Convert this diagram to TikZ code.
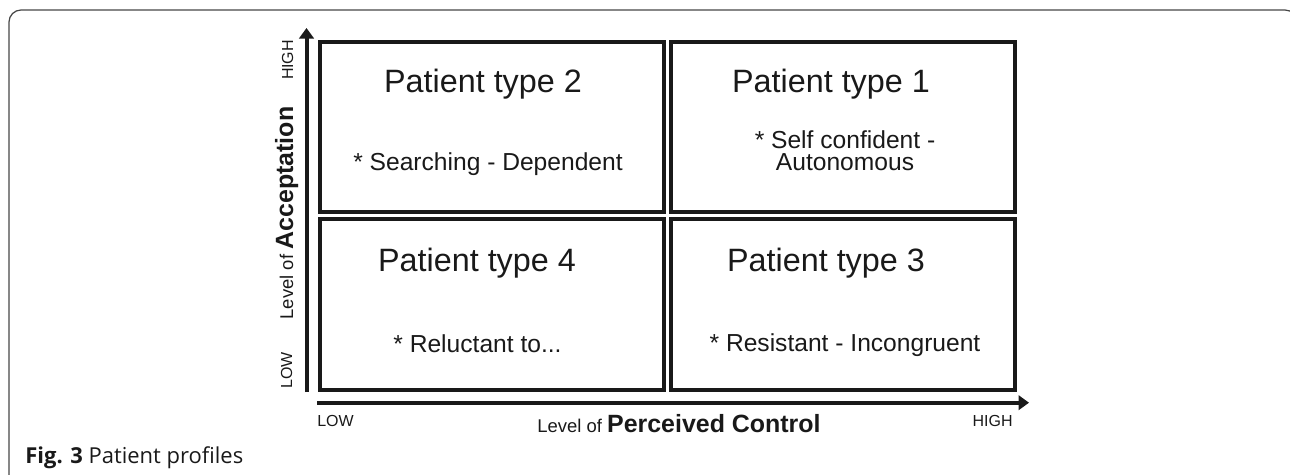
\documentclass[tikz,border=0pt]{standalone}
\usepackage{fontspec}
\setmainfont{Liberation Sans}
\newfontfamily\captionfont{Open Sans}
\usepackage{tikz}
\usetikzlibrary{arrows.meta}
\definecolor{inkblack}{RGB}{25,25,25}
\definecolor{framegray}{RGB}{70,70,70}

\begin{document}
\begin{tikzpicture}[x=0.02cm,y=-0.02cm,
    quadrant/.style={draw=inkblack,line width=0.08cm,minimum width=6.88cm,minimum height=3.41cm,inner sep=0pt},
    typelabel/.style={anchor=base,inner sep=0pt,inkblack,font=\fontsize{18.4pt}{20pt}\selectfont},
    traitlabel/.style={anchor=base,inner sep=0pt,align=center,inkblack,font=\fontsize{14pt}{12.8pt}\selectfont},
    ticklabel/.style={inner sep=0pt,inkblack,font=\fontsize{9.1pt}{10pt}\selectfont},
    axislabel/.style={anchor=base,inner sep=0pt,inkblack,font=\fontsize{10.5pt}{12pt}\selectfont},
    axis/.style={inkblack,line width=0.08cm,-{Triangle[length=0.21cm,width=0.29cm]}}]
  \useasboundingbox (0,0) rectangle (1290,474);
  \draw[framegray,line width=0.025cm,rounded corners=0.24cm] (9,500) -- (9,10) -- (1297,10) -- (1297,500);
  \node[quadrant] (q2) at (492,127.25) {};
  \node[quadrant] (q1) at (843.25,127.25) {};
  \node[quadrant] (q4) at (492,304.5) {};
  \node[quadrant] (q3) at (843.25,304.5) {};
  \node[typelabel] (t2) at (483,92) {Patient type 2};
  \node[traitlabel] (s2) at (488,170.7) {* Searching - Dependent};
  \node[typelabel] (t1) at (831,92) {Patient type 1};
  \node[traitlabel] (s1) at (845,170.7) {* Self confident -\\ Autonomous};
  \node[typelabel] (t4) at (477,271) {Patient type 4};
  \node[traitlabel] (s4) at (477.5,352) {* Reluctant to...};
  \node[typelabel] (t3) at (826,271) {Patient type 3};
  \node[traitlabel] (s3) at (845,351.7) {* Resistant - Incongruent};
  \coordinate (yfoot) at (306.5,392);
  \coordinate (ytip) at (306.5,28);
  \coordinate (xfoot) at (317,402.7);
  \coordinate (xtip) at (1029,402.7);
  \draw[axis] (yfoot) -- (ytip);
  \draw[axis] (xfoot) -- (xtip);
  \node[ticklabel,anchor=base west] (xlow) at (317,426) {LOW};
  \node[ticklabel,anchor=base east] (xhigh) at (1013,426) {HIGH};
  \node[ticklabel,anchor=base,rotate=90] (ylow) at (292,370.5) {LOW};
  \node[ticklabel,anchor=base,rotate=90] (yhigh) at (293,60) {HIGH};
  \node[axislabel] (xname) at (679,432) {Level of {\bfseries\fontsize{14.2pt}{16pt}\selectfont Perceived Control}};
  \node[axislabel,rotate=90] (yname) at (293,213) {Level of {\bfseries\fontsize{14.2pt}{16pt}\selectfont Acceptation}};
  \node[anchor=base west,inner sep=0pt,inkblack,font=\captionfont\fontsize{12.5pt}{14pt}\selectfont] (caption) at (25,463) {\textbf{Fig. 3} Patient profiles};
\end{tikzpicture}
\end{document}
